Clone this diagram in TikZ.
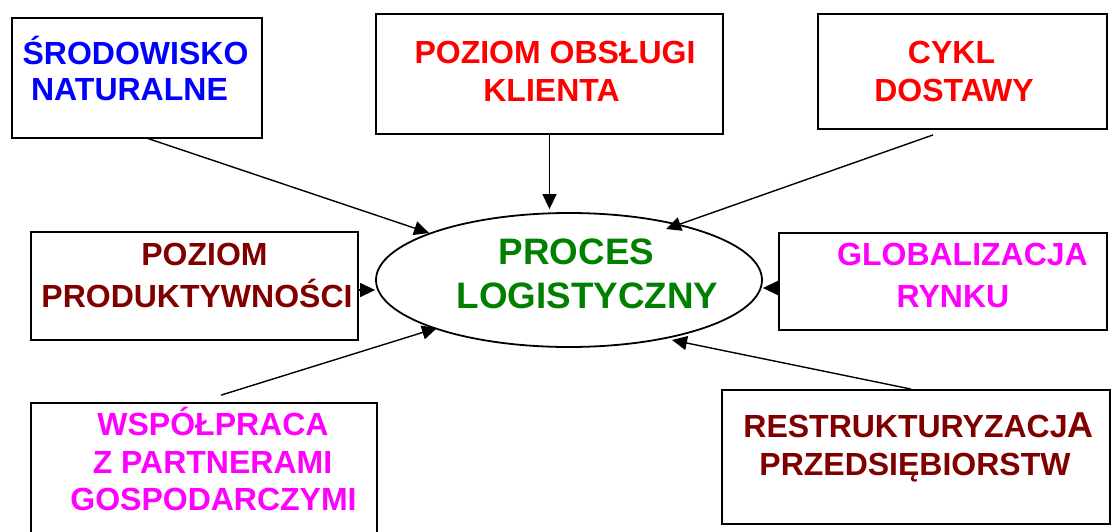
\documentclass[tikz,border=0pt]{standalone}
\usepackage{fontspec}
\setmainfont{Liberation Sans}
\usetikzlibrary{arrows.meta,shapes.geometric,calc}
\definecolor{cblue}{RGB}{0,0,255}
\definecolor{cred}{RGB}{255,0,0}
\definecolor{cmaroon}{RGB}{128,0,0}
\definecolor{cmag}{RGB}{255,0,255}
\definecolor{cgreen}{RGB}{0,128,0}
\begin{document}
\begin{tikzpicture}[x=1pt,y=-1pt,
  box/.style={draw=black,line width=1.8pt,rectangle,inner sep=0pt},
  txt/.style={anchor=base,inner sep=0pt,font=\bfseries\fontsize{32}{38}\selectfont},
  bigtxt/.style={anchor=base,inner sep=0pt,font=\bfseries\fontsize{36.8}{44}\selectfont},
  arr/.style={line width=1.4pt,-{Triangle[length=15pt,width=14pt]}}]
\useasboundingbox (0,0) rectangle (1112,531);
\fill[white] (0,0) rectangle (1112,531);

% boxes
\node[box,minimum width=250pt,minimum height=120pt] (b1) at (137,78) {};
\node[box,minimum width=347pt,minimum height=120pt] (b2) at (549.5,74) {};
\node[box,minimum width=289pt,minimum height=115pt] (b3) at (962.5,71.5) {};
\node[box,minimum width=327pt,minimum height=108pt] (b4) at (194.5,286) {};
\node[box,minimum width=328pt,minimum height=97pt] (b6) at (943,281.5) {};
\node[box,minimum width=346pt,minimum height=142pt] (b7) at (204,474) {};
\node[box,minimum width=388pt,minimum height=134pt] (b8) at (916,457) {};
\node[draw=black,ellipse,line width=1.8pt,minimum width=386pt,minimum height=134pt,inner sep=0pt] (el) at (569,280) {};

% texts
\node[txt,text=cblue] (t1a) at (135.5,64) {ŚRODOWISKO};
\node[txt,text=cblue] (t1b) at (129.5,100.5) {NATURALNE};
\node[txt,text=cred] (t2a) at (555,63) {POZIOM OBSŁUGI};
\node[txt,text=cred] (t2b) at (551.5,101) {KLIENTA};
\node[txt,text=cred] (t3a) at (951.5,63) {CYKL};
\node[txt,text=cred] (t3b) at (954,101) {DOSTAWY};
\node[txt,text=cmaroon] (t4a) at (204.5,265) {POZIOM};
\node[txt,text=cmaroon] (t4b) at (197,307) {PRODUKTYWNOŚCI};
\node[bigtxt,text=cgreen] (tea) at (576.5,264) {PROCES};
\node[bigtxt,text=cgreen] (teb) at (587.5,308) {LOGISTYCZNY};
\node[txt,text=cmag] (t6a) at (962.5,265) {GLOBALIZACJA};
\node[txt,text=cmag] (t6b) at (953,307) {RYNKU};
\node[txt,text=cmag] (t7a) at (213,435) {WSPÓŁPRACA};
\node[txt,text=cmag] (t7b) at (212.5,473) {Z PARTNERAMI};
\node[txt,text=cmag] (t7c) at (213.5,510) {GOSPODARCZYMI};
\node[txt,text=cmaroon] (t8a) at (918.5,437) {RESTRUKTURYZACJ{\fontsize{36}{40}\selectfont A}};
\node[txt,text=cmaroon] (t8b) at (915,475) {PRZEDSIĘBIORSTW};

% connectors
\draw[arr] ($(b1.south west)+(135,-1)$) -- (el);
\draw[arr] (b2.south) -- ([yshift=3pt]b2.south |- el.north);
\draw[arr] ($(b3.south west)+(116,5)$) -- ($(el.center)+(97,-51)$);
\draw[arr] ([yshift=-4pt]b4.east) -- ([yshift=-4pt]b4.east -| el.west);
\draw[arr] ([yshift=-6.5pt]b6.west) -- ([yshift=-6.5pt]b6.west -| el.east);
\draw[arr] ($(b7.north west)+(191,-7)$) -- ($(el.center)+(-132,48)$);
\draw[arr] ($(b8.north west)+(190,0)$) -- ($(el.center)+(103,60)$);
\end{tikzpicture}
\end{document}
